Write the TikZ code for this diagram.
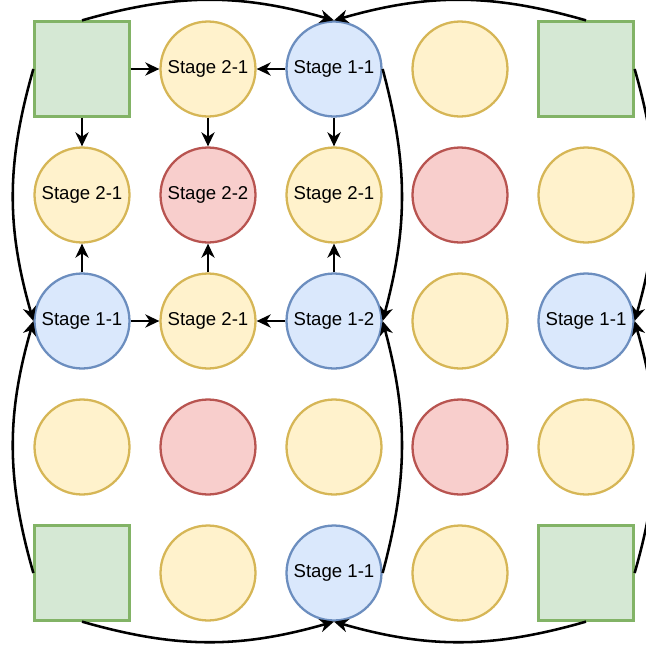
\documentclass[tikz,border=0pt]{standalone}
\usepackage{fontspec}
\setmainfont{Liberation Sans}
\usetikzlibrary{arrows.meta}

\definecolor{grfill}{HTML}{D5E8D4}
\definecolor{grline}{HTML}{82B366}
\definecolor{yefill}{HTML}{FFF2CC}
\definecolor{yeline}{HTML}{D6B656}
\definecolor{rdfill}{HTML}{F8CECC}
\definecolor{rdline}{HTML}{B85450}
\definecolor{blfill}{HTML}{DAE8FC}
\definecolor{blline}{HTML}{6C8EBF}

\tikzset{
  cell/.style={draw, line width=1.3pt, inner sep=0pt, font=\fontsize{10.6}{12}\selectfont},
  corner/.style={cell, rectangle, minimum size=1.9cm, fill=grfill, draw=grline},
  ystage/.style={cell, circle, minimum size=1.9cm, fill=yefill, draw=yeline},
  rstage/.style={cell, circle, minimum size=1.9cm, fill=rdfill, draw=rdline},
  bstage/.style={cell, circle, minimum size=1.9cm, fill=blfill, draw=blline},
  link/.style={line width=1.45pt, -{Stealth[length=8pt,width=7.5pt,inset=2.5pt]}}
}

\begin{document}
\begin{tikzpicture}[x=0.02cm, y=-0.02cm]
		\useasboundingbox (0,0) rectangle (646,650);

		% row 1
		\node[corner] (n11) at (82,69) {};
		\node[ystage] (n12) at (208,69) {Stage 2-1};
		\node[bstage] (n13) at (334,69) {Stage 1-1};
		\node[ystage] (n14) at (460,69) {};
		\node[corner] (n15) at (586,69) {};
		% row 2
		\node[ystage] (n21) at (82,195) {Stage 2-1};
		\node[rstage] (n22) at (208,195) {Stage 2-2};
		\node[ystage] (n23) at (334,195) {Stage 2-1};
		\node[rstage] (n24) at (460,195) {};
		\node[ystage] (n25) at (586,195) {};
		% row 3
		\node[bstage] (n31) at (82,321) {Stage 1-1};
		\node[ystage] (n32) at (208,321) {Stage 2-1};
		\node[bstage] (n33) at (334,321) {Stage 1-2};
		\node[ystage] (n34) at (460,321) {};
		\node[bstage] (n35) at (586,321) {Stage 1-1};
		% row 4
		\node[ystage] (n41) at (82,447) {};
		\node[rstage] (n42) at (208,447) {};
		\node[ystage] (n43) at (334,447) {};
		\node[rstage] (n44) at (460,447) {};
		\node[ystage] (n45) at (586,447) {};
		% row 5
		\node[corner] (n51) at (82,573) {};
		\node[ystage] (n52) at (208,573) {};
		\node[bstage] (n53) at (334,573) {Stage 1-1};
		\node[ystage] (n54) at (460,573) {};
		\node[corner] (n55) at (586,573) {};

		% straight links
		\draw[link] (n11) -- (n12);
		\draw[link] (n13) -- (n12);
		\draw[link] (n11) -- (n21);
		\draw[link] (n12) -- (n22);
		\draw[link] (n13) -- (n23);
		\draw[link] (n31) -- (n21);
		\draw[link] (n31) -- (n32);
		\draw[link] (n32) -- (n22);
		\draw[link] (n33) -- (n32);
		\draw[link] (n33) -- (n23);

		% wrap-around links
		\draw[link] (n11.north) to [bend left=16] (n13.north);
		\draw[link] (n15.north) to [bend right=16] (n13.north);
		\draw[link] (n51.south) to [bend right=16] (n53.south);
		\draw[link] (n55.south) to [bend left=16] (n53.south);
		\draw[link] (n11.west) to [bend right=16] (n31.west);
		\draw[link] (n51.west) to [bend left=16] (n31.west);
		\draw[link] (n13.east) to [bend left=15] (n33.east);
		\draw[link] (n53.east) to [bend right=15] (n33.east);
		\draw[link] (n15.east) to [bend left=16] (n35.east);
		\draw[link] (n55.east) to [bend right=16] (n35.east);
\end{tikzpicture}
\end{document}
